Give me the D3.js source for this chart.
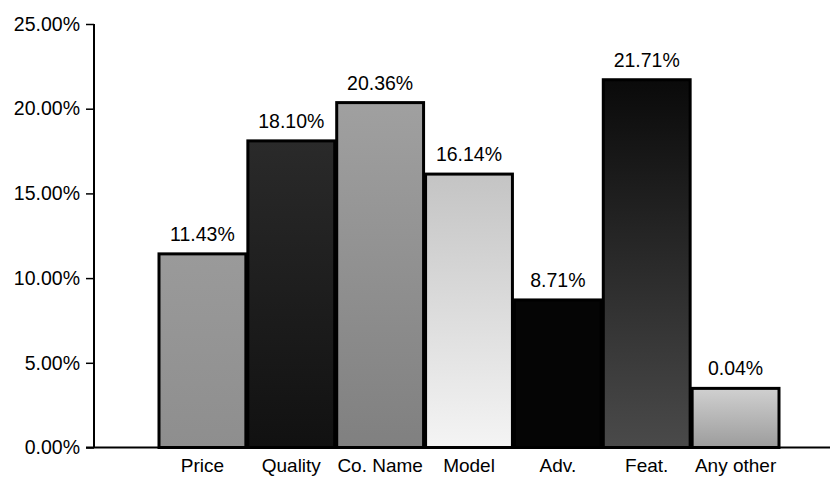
<!DOCTYPE html>
<html><head><meta charset="utf-8">
<script src="https://cdn.jsdelivr.net/npm/d3@7"></script>
<style>
html,body{margin:0;padding:0;background:#fff;}
text{font-family:"Liberation Sans",Arial,sans-serif;fill:#000;}
</style></head>
<body>
<svg id="chart" width="835" height="478"></svg>
<script>
const categories = ["Price","Quality","Co. Name","Model","Adv.","Feat.","Any other"];
const values = [11.43, 18.10, 20.36, 16.14, 8.71, 21.71, 3.49];
const valueLabels = ["11.43%","18.10%","20.36%","16.14%","8.71%","21.71%","0.04%"];
const yTicks = [0, 5, 10, 15, 20, 25];
const fillTop = ["#9a9a9a","#2a2a2a","#a0a0a0","#c4c4c4","#050505","#0a0a0a","#d0d0d0"];
const fillBottom = ["#8e8e8e","#111111","#808080","#f4f4f4","#050505","#4a4a4a","#9c9c9c"];

const svg = d3.select("#chart");
const defs = svg.append("defs");
categories.forEach((c, i) => {
  const g = defs.append("linearGradient").attr("id", "g" + i)
    .attr("x1", 0).attr("y1", 0).attr("x2", 0).attr("y2", 1);
  g.append("stop").attr("offset", "0%").attr("stop-color", fillTop[i]);
  g.append("stop").attr("offset", "100%").attr("stop-color", fillBottom[i]);
});

const axisX = 94, y0 = 447.5, yTop = 24;
const x = d3.scaleBand().domain(categories).range([158, 780]).paddingInner(0).paddingOuter(0);
const y = d3.scaleLinear().domain([0, 25]).range([y0, yTop]);
const font = '"Liberation Sans",Arial,sans-serif';

// bars
svg.append("g").selectAll("rect").data(categories).join("rect")
  .attr("x", d => x(d) + 1)
  .attr("y", (d,i) => y(values[i]))
  .attr("width", x.bandwidth() - 2)
  .attr("height", (d,i) => y0 - y(values[i]))
  .attr("fill", (d,i) => `url(#g${i})`)
  .attr("stroke", "#000")
  .attr("stroke-width", 3);

// value labels
svg.append("g").selectAll("text").data(categories).join("text")
  .attr("x", d => x(d) + x.bandwidth()/2)
  .attr("y", (d,i) => y(values[i]) - 13)
  .attr("text-anchor", "middle")
  .attr("font-size", 19.5)
  .text((d,i) => valueLabels[i]);

// y axis
const yAxis = d3.axisLeft(y).tickValues(yTicks).tickFormat(d => d.toFixed(2) + "%").tickSize(8).tickPadding(6);
const gy = svg.append("g").attr("transform", `translate(${axisX},0)`).call(yAxis);
gy.select(".domain").attr("stroke", "#000").attr("stroke-width", 2).attr("d", `M0,${yTop}V${y0}`);
gy.selectAll(".tick line").attr("stroke", "#000").attr("stroke-width", 1.5);
gy.selectAll(".tick text").attr("font-size", 19.5).style("font-family", font).attr("fill", "#000");

// x axis baseline and category labels
const xAxis = d3.axisBottom(x).tickSize(0).tickPadding(11);
const gx = svg.append("g").attr("transform", `translate(0,${y0})`).call(xAxis);
gx.select(".domain").attr("stroke", "#000").attr("stroke-width", 2).attr("d", `M${axisX - 8},0H830`);
gx.selectAll(".tick text").attr("font-size", 19).style("font-family", font).attr("fill", "#000");
</script>
</body></html>
